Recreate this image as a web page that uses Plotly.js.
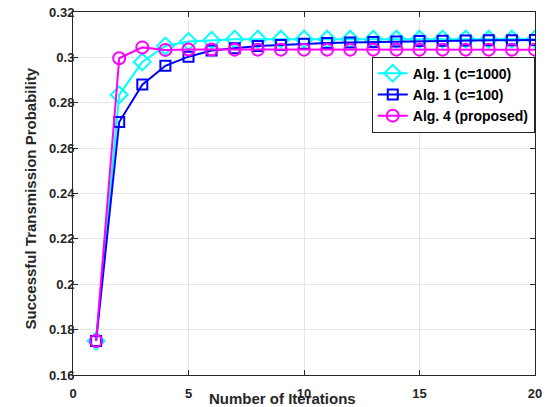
<!DOCTYPE html>
<html><head><meta charset="utf-8">
<script src="https://cdn.plot.ly/plotly-3.0.1.min.js"></script>
<style>html,body{margin:0;padding:0;background:#fff}</style>
</head><body><div id="chart" style="width:546px;height:407px"></div>
<script>
const iterations = [1,2,3,4,5,6,7,8,9,10,11,12,13,14,15,16,17,18,19,20];
const alg1c1000 = [0.175,0.2835,0.298,0.305,0.307,0.3075,0.308,0.308,0.308,0.308,0.308,0.308,0.308,0.308,0.308,0.308,0.308,0.308,0.308,0.308];
const alg1c100 = [0.175,0.2715,0.288,0.2963,0.3003,0.303,0.304,0.305,0.3055,0.306,0.3063,0.3066,0.3068,0.307,0.3072,0.3073,0.3074,0.3075,0.3076,0.3077];
const alg4 = [0.175,0.2996,0.3044,0.3033,0.3035,0.3035,0.3034,0.3034,0.3034,0.3034,0.3034,0.3034,0.3034,0.3034,0.3034,0.3034,0.3034,0.3034,0.3034,0.3034];
const names = ["Alg. 1 (c=1000)","Alg. 1 (c=100)","Alg. 4 (proposed)"];
const xTicks = [0,5,10,15,20];
const yTicks = [0.16,0.18,0.2,0.22,0.24,0.26,0.28,0.3,0.32];
const yTickText = ["0.16","0.18","0.2","0.22","0.24","0.26","0.28","0.3","0.32"];

const F = "Liberation Sans, Arial, sans-serif";
const traces = [
  {x:iterations,y:alg1c1000,name:names[0],mode:"lines+markers",
   line:{color:"#00FFFF",width:2},marker:{symbol:"diamond-open",size:13,color:"#00FFFF",line:{width:2,color:"#00FFFF"}}},
  {x:iterations,y:alg1c100,name:names[1],mode:"lines+markers",
   line:{color:"#0000FF",width:2},marker:{symbol:"square-open",size:10,color:"#0000FF",line:{width:2,color:"#0000FF"}}},
  {x:iterations,y:alg4,name:names[2],mode:"lines+markers",
   line:{color:"#FF00FF",width:2},marker:{symbol:"circle-open",size:12,color:"#FF00FF",line:{width:2,color:"#FF00FF"}}}
];
const layout = {
  width:546,height:407,
  margin:{l:73,r:11,t:12,b:32},
  paper_bgcolor:"#fff",plot_bgcolor:"#fff",
  font:{family:F,size:13,color:"#262626"},
  showlegend:true,
  legend:{x:0.9995,y:0.877,xanchor:"right",yanchor:"top",bgcolor:"#fff",bordercolor:"#262626",borderwidth:1,
    font:{family:F,size:14,color:"#000",weight:"bold"},tracegroupgap:0,itemwidth:30},
  xaxis:{range:[0,20],tickvals:xTicks,ticktext:xTicks.map(String),ticks:"inside",ticklen:5,tickcolor:"#262626",
    showline:true,linecolor:"#262626",linewidth:1,mirror:"ticks",showgrid:true,gridcolor:"#e6e6e6",zeroline:false,
    ticklabelstandoff:6,
    tickfont:{family:F,size:13,color:"#262626",weight:"bold"}},
  yaxis:{range:[0.16,0.32],tickvals:yTicks,ticktext:yTickText,ticks:"inside",ticklen:5,tickcolor:"#262626",
    showline:true,linecolor:"#262626",linewidth:1,mirror:"ticks",showgrid:true,gridcolor:"#e6e6e6",zeroline:false,
    ticklabelstandoff:-5,
    tickfont:{family:F,size:13,color:"#262626",weight:"bold"}},
  annotations:[
    {text:"Number of Iterations",xref:"paper",yref:"paper",x:0.4545,y:-0.066,xanchor:"center",yanchor:"middle",
     showarrow:false,font:{family:F,size:15,color:"#262626",weight:"bold"}},
    {text:"Successful Transmission Probability",xref:"paper",yref:"paper",x:-0.091,xshift:0,y:0.486,
     xanchor:"center",yanchor:"middle",textangle:-90,showarrow:false,font:{family:F,size:15,color:"#262626",weight:"bold"}}
  ]
};
Plotly.newPlot("chart",traces,layout,{displayModeBar:false});
</script></body></html>
